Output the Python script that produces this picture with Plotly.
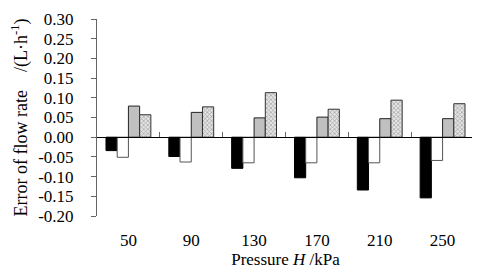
import plotly.graph_objects as go

categories = ["50", "90", "130", "170", "210", "250"]
series_a = [-0.034, -0.049, -0.079, -0.103, -0.134, -0.154]
series_b = [-0.051, -0.063, -0.065, -0.065, -0.065, -0.059]
series_c = [0.079, 0.063, 0.049, 0.051, 0.047, 0.047]
series_d = [0.057, 0.077, 0.113, 0.071, 0.094, 0.085]
y_ticks = [-0.20, -0.15, -0.10, -0.05, 0.00, 0.05, 0.10, 0.15, 0.20, 0.25, 0.30]
y_labels = [f"{v:.2f}" for v in y_ticks]

FONT = "Liberation Serif, Times New Roman, serif"

fig = go.Figure()
fig.add_trace(go.Bar(x=categories, y=series_a, marker=dict(color="black", line=dict(color="black", width=1))))
fig.add_trace(go.Bar(x=categories, y=series_b, marker=dict(color="white", line=dict(color="#555555", width=1))))
fig.add_trace(go.Bar(x=categories, y=series_c, marker=dict(color="#c0c0c0", line=dict(color="#222222", width=1))))
fig.add_trace(go.Bar(x=categories, y=series_d, marker=dict(color="#e4e4e4", line=dict(color="#333333", width=1),
                                                         pattern=dict(shape="x", size=3, solidity=0.45, fgcolor="#707070"))))
# invisible trace to carry the secondary axis drawn at y = 0
fig.add_trace(go.Scatter(x=[-0.5, len(categories) - 0.5], y=[0, 0], xaxis="x2", mode="lines",
                         line=dict(color="rgba(0,0,0,0)"), hoverinfo="skip"))

# the page body adds an 8px margin, so the figure is 8px smaller than the window
fig.update_layout(
    width=472, height=270,
    margin=dict(l=89, r=6, t=11, b=62, autoexpand=False),
    paper_bgcolor="white", plot_bgcolor="white",
    showlegend=False,
    barmode="group", bargap=0.286, bargroupgap=0,
    font=dict(family=FONT, size=17, color="black"),
    xaxis=dict(showline=False, showgrid=False, ticks="", ticklabelstandoff=12, automargin=False,
               tickfont=dict(family=FONT, size=17),
               title=dict(text="Pressure <i>H</i> /kPa", font=dict(family=FONT, size=17), standoff=0)),
    xaxis2=dict(overlaying="x", anchor="free", position=0.4, side="bottom", automargin=False,
                range=[-0.5, len(categories) - 0.5], showline=True, linecolor="black", linewidth=1,
                ticks="inside", ticklen=5, tickcolor="#666666",
                tickvals=[i - 0.5 for i in range(len(categories) + 1)], showticklabels=False,
                showgrid=False, zeroline=False),
    yaxis=dict(range=[-0.2, 0.3], showline=True, linecolor="#666666", linewidth=1, automargin=False,
               ticks="outside", ticklen=5, tickcolor="#666666",
               tickvals=y_ticks, ticktext=y_labels, tickfont=dict(family=FONT, size=17),
               ticklabelstandoff=14,
               showgrid=False, zeroline=False,
               title=dict(text="Error of flow rate    /(L·h<sup>-1</sup>)", font=dict(family=FONT, size=18), standoff=6)),
)

fig.write_html("out.html")
